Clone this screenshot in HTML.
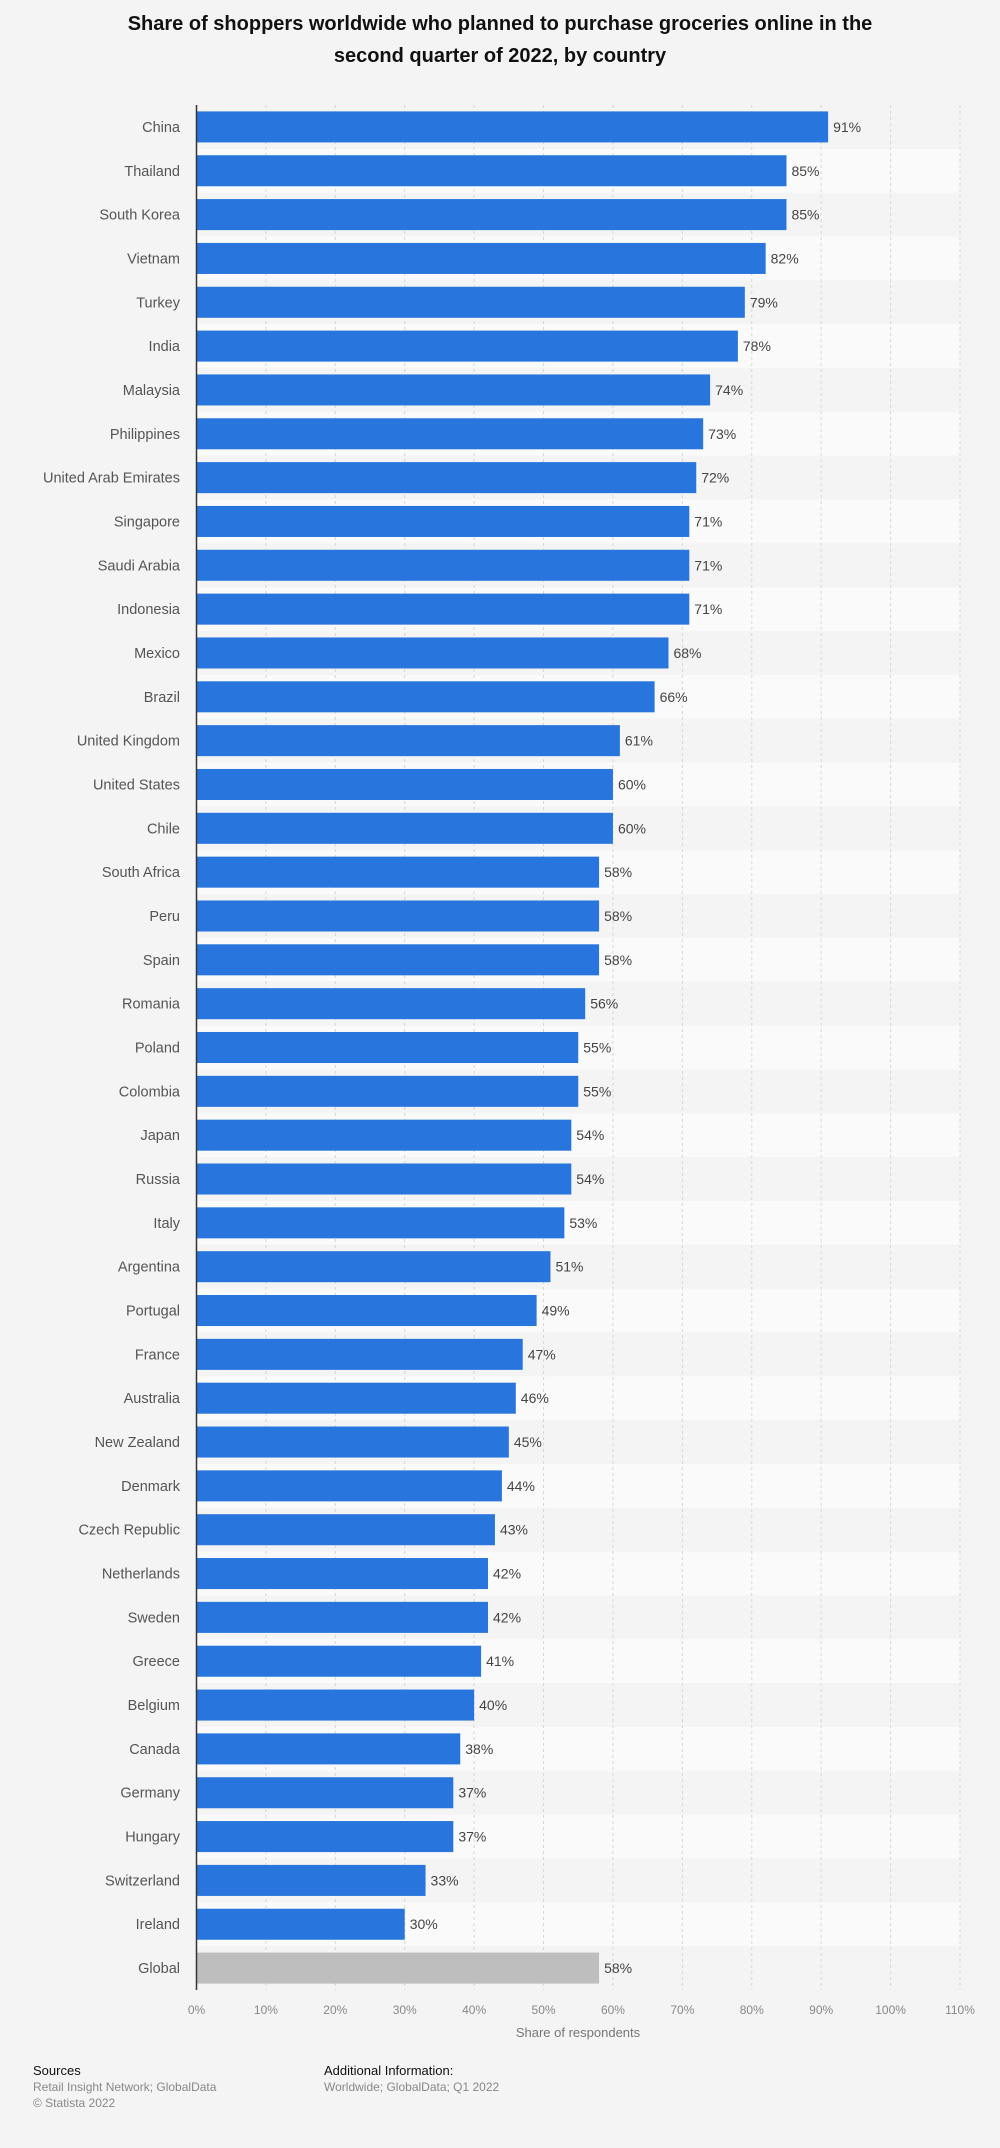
<!DOCTYPE html>
<html><head><meta charset="utf-8"><style>
body{margin:0;background:#f4f4f4;font-family:"Liberation Sans",Arial,sans-serif;}
#wrap{position:relative;width:1000px;height:2148px;overflow:hidden;}
</style></head><body>
<div id="wrap">
<svg id="chart" width="1000" height="2148">
<text x="500" y="30" text-anchor="middle" font-size="20" font-weight="bold" fill="#111">Share of shoppers worldwide who planned to purchase groceries online in the</text>
<text x="500" y="62" text-anchor="middle" font-size="20" font-weight="bold" fill="#111">second quarter of 2022, by country</text>
<g id="bands"></g><g id="grid"></g><g id="bars"></g><g id="labels"></g>
<line x1="196.5" y1="105" x2="196.5" y2="1990" stroke="#333" stroke-width="1.5"/>
<g id="ticks"></g>
<text x="578" y="2037" text-anchor="middle" font-size="13" fill="#777">Share of respondents</text>
<text x="33" y="2075" font-size="13" fill="#111">Sources</text>
<text x="33" y="2091" font-size="12" fill="#888">Retail Insight Network; GlobalData</text>
<text x="33" y="2107" font-size="12" fill="#888">© Statista 2022</text>
<text x="324" y="2075" font-size="13" fill="#111">Additional Information:</text>
<text x="324" y="2091" font-size="12" fill="#888">Worldwide; GlobalData; Q1 2022</text>
</svg>
</div>
<script>
const categories=["China","Thailand","South Korea","Vietnam","Turkey","India","Malaysia","Philippines","United Arab Emirates","Singapore","Saudi Arabia","Indonesia","Mexico","Brazil","United Kingdom","United States","Chile","South Africa","Peru","Spain","Romania","Poland","Colombia","Japan","Russia","Italy","Argentina","Portugal","France","Australia","New Zealand","Denmark","Czech Republic","Netherlands","Sweden","Greece","Belgium","Canada","Germany","Hungary","Switzerland","Ireland","Global"];
const values=[91,85,85,82,79,78,74,73,72,71,71,71,68,66,61,60,60,58,58,58,56,55,55,54,54,53,51,49,47,46,45,44,43,42,42,41,40,38,37,37,33,30,58];
const ticks=[0,10,20,30,40,50,60,70,80,90,100,110];
const NS="http://www.w3.org/2000/svg";
const X0=196.5,XS=(960-196.5)/110,Y0=105,Y1=1990,P=(Y1-Y0)/categories.length;
const xs=v=>X0+v*XS, ys=i=>Y0+i*P;
function mk(g,t,a){const e=document.createElementNS(NS,t);for(const k in a)e.setAttribute(k,a[k]);document.getElementById(g).appendChild(e);return e;}
categories.forEach((c,i)=>{
 const b=mk("bands","rect",{x:197,y:ys(i),width:763,height:P,fill:i%2?"#fafafa":"#f4f4f4"});
 
 
});
ticks.forEach(t=>{
 const l=mk("grid","line",{x1:xs(t),x2:xs(t),y1:Y0,y2:Y1,stroke:"#d6d6d6","stroke-dasharray":"3,3"});
 
 
 const tx=mk("ticks","text",{x:xs(t),y:2014,"text-anchor":"middle","font-size":"12",fill:"#888"});
 tx.textContent=t+"%";
 
 
});
categories.forEach((c,i)=>{
 const y=ys(i)+6.4,h=P-12.8,v=values[i];
 const r=mk("bars","rect",{x:X0,y:y,width:xs(v)-X0,height:h,fill:c==="Global"?"#bebebe":"#2876dd"});
 
 
 const l=mk("labels","text",{x:180,y:ys(i)+P/2+5,"text-anchor":"end","font-size":"14.5",fill:"#555"});
 l.textContent=c;
 
 
 const vl=mk("labels","text",{x:xs(v)+5,y:ys(i)+P/2+5,"font-size":"14",fill:"#444"});
 vl.textContent=v+"%";
 
 
});
</script>
</body></html>
